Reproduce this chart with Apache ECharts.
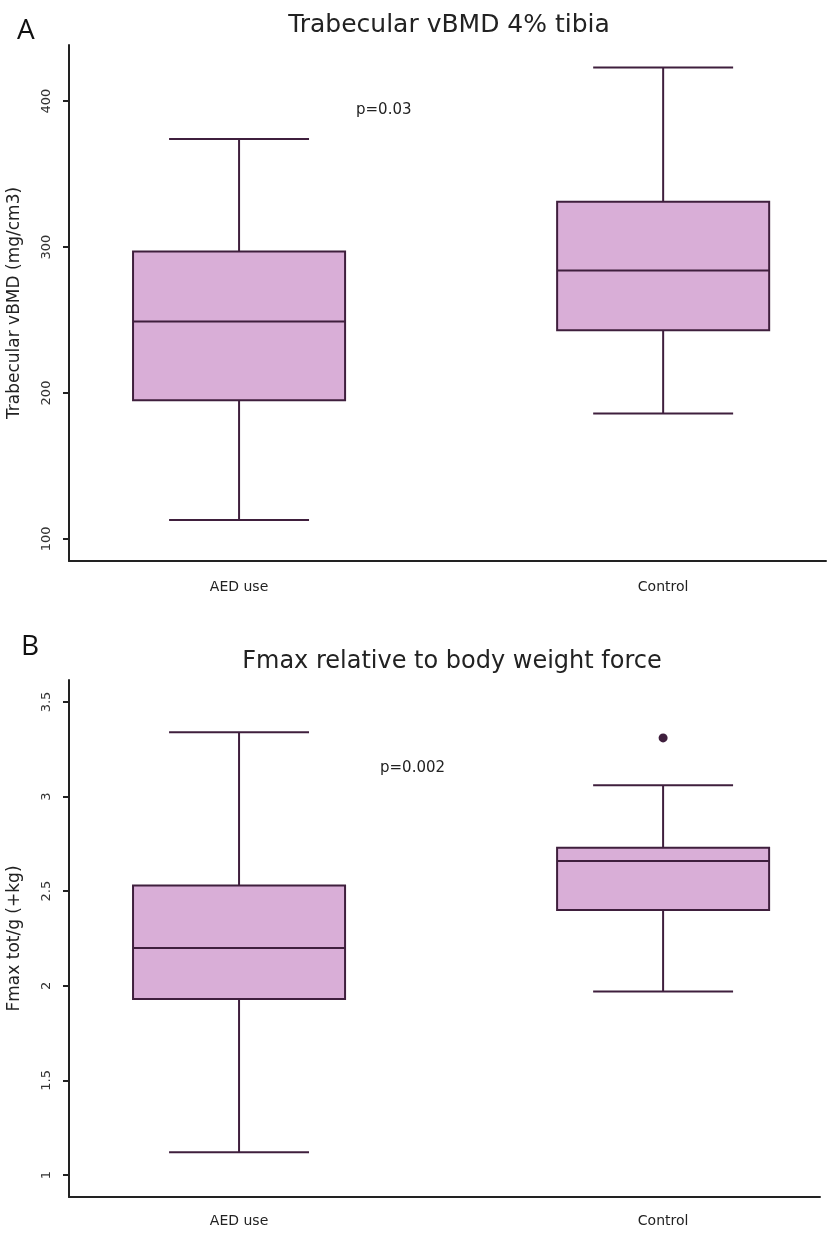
<!DOCTYPE html>
<html>
<head>
<meta charset="utf-8">
<script src="https://cdn.jsdelivr.net/npm/echarts@6/dist/echarts.min.js"></script>
<style>html,body{margin:0;padding:0;background:#fff}#c{width:831px;height:1233px}</style>
</head>
<body>
<div id="c"></div>
<script>
// ---- data ----
const categories = ['AED use', 'Control'];
// [min, Q1, median, Q3, max]
const vbmdBox = [[113, 195, 249, 297, 374], [186, 243, 284, 331, 423]];
const fmaxBox = [[1.12, 1.93, 2.20, 2.53, 3.34], [1.97, 2.40, 2.66, 2.73, 3.06]];
// [category index, value]
const fmaxOutliers = [[1, 3.31]];
const vbmdTicks = [100, 200, 300, 400];
const fmaxTicks = [1, 1.5, 2, 2.5, 3, 3.5];
const titles = ['Trabecular vBMD 4% tibia', 'Fmax relative to body weight force'];
const yNames = ['Trabecular vBMD (mg/cm3)', 'Fmax tot/g (+kg)'];
const pValues = ['p=0.03', 'p=0.002'];
const panelLetters = ['A', 'B'];

// ---- style ----
const STROKE = '#3f1f3d';
const FILL = '#d9aed7';
const BOX_W = 0.5, CAP_W = 0.33;
const FONT = 'DejaVu Sans';

function toRows(stats) { return stats.map((s, i) => [i + 1].concat(s)); }

function renderBox(params, api) {
  const x = api.value(0);
  const v = [1, 2, 3, 4, 5].map(i => api.value(i));
  const half = api.size([BOX_W, 0])[0] / 2;
  const capHalf = api.size([CAP_W, 0])[0] / 2;
  const p = v.map(val => api.coord([x, val]));
  const cx = p[0][0];
  const ls = { stroke: STROKE, lineWidth: 2 };
  const line = (x1, y1, x2, y2, st) => ({ type: 'line', shape: { x1, y1, x2, y2 }, style: st || ls });
  return {
    type: 'group',
    children: [
      { type: 'rect', shape: { x: cx - half, y: p[3][1], width: 2 * half, height: p[1][1] - p[3][1] }, style: { fill: FILL, stroke: STROKE, lineWidth: 2 } },
      line(cx - half, p[2][1], cx + half, p[2][1]),
      line(cx, p[3][1], cx, p[4][1]),
      line(cx, p[1][1], cx, p[0][1]),
      line(cx - capHalf, p[4][1], cx + capHalf, p[4][1]),
      line(cx - capHalf, p[0][1], cx + capHalf, p[0][1])
    ]
  };
}

const grids = [
  { left: 69, right: 5, top: 45, height: 516, outerBoundsMode: 'none', containLabel: false },
  { left: 69, right: 11, top: 680, height: 517, outerBoundsMode: 'none', containLabel: false }
];
const yRanges = [[84.9, 438.4], [0.884, 3.616]];
const xRanges = [[0.599, 2.384], [0.599, 2.370]];
const ticks = [vbmdTicks, fmaxTicks];

const xAxes = grids.map((g, i) => ({
  type: 'value', gridIndex: i, min: xRanges[i][0], max: xRanges[i][1],
  splitLine: { show: false }, axisTick: { show: false },
  axisLine: { show: true, onZero: false, lineStyle: { color: '#222', width: 2 } },
  axisLabel: {
    customValues: [1, 2], formatter: v => categories[Math.round(v) - 1] || '',
    margin: i === 0 ? 19 : 17, fontSize: 14, color: '#222', fontFamily: FONT
  }
}));
const yAxes = grids.map((g, i) => ({
  type: 'value', gridIndex: i, min: yRanges[i][0], max: yRanges[i][1],
  splitLine: { show: false },
  axisLine: { show: true, lineStyle: { color: '#222', width: 2 } },
  axisTick: { show: true, length: 6, customValues: ticks[i], lineStyle: { color: '#222', width: 2 } },
  axisLabel: { customValues: ticks[i], rotate: 90, margin: 16, fontSize: 13, color: '#333', fontFamily: FONT },
  name: yNames[i], nameLocation: 'middle', nameGap: 46, nameRotate: 90,
  nameTextStyle: { fontSize: 17, color: '#222', fontFamily: FONT }
}));

const option = {
  animation: false,
  backgroundColor: '#fff',
  grid: grids,
  xAxis: xAxes,
  yAxis: yAxes,
  graphic: [
    { type: 'text', x: 449, y: 25, style: { text: titles[0], font: '25px "DejaVu Sans"', fill: '#222', textAlign: 'center', textVerticalAlign: 'middle' } },
    { type: 'text', x: 452, y: 662, style: { text: titles[1], font: '24px "DejaVu Sans"', fill: '#222', textAlign: 'center', textVerticalAlign: 'middle' } },
    { type: 'text', left: 17, top: 17, style: { text: panelLetters[0], font: '28px "Open Sans"', fill: '#111' } },
    { type: 'text', left: 21, top: 633, style: { text: panelLetters[1], font: '28px "Open Sans"', fill: '#111' } },
    { type: 'text', left: 356, top: 103, style: { text: pValues[0], font: '15px "DejaVu Sans"', fill: '#222' } },
    { type: 'text', left: 380, top: 761, style: { text: pValues[1], font: '15px "DejaVu Sans"', fill: '#222' } }
  ],
  series: [
    { type: 'custom', xAxisIndex: 0, yAxisIndex: 0, data: toRows(vbmdBox), encode: { x: 0, y: [1, 2, 3, 4, 5] }, renderItem: renderBox },
    { type: 'custom', xAxisIndex: 1, yAxisIndex: 1, data: toRows(fmaxBox), encode: { x: 0, y: [1, 2, 3, 4, 5] }, renderItem: renderBox },
    { type: 'scatter', xAxisIndex: 1, yAxisIndex: 1, data: fmaxOutliers.map(o => [o[0] + 1, o[1]]), symbolSize: 9, itemStyle: { color: STROKE, opacity: 1 } }
  ]
};
echarts.init(document.getElementById('c')).setOption(option);
</script>
</body>
</html>
